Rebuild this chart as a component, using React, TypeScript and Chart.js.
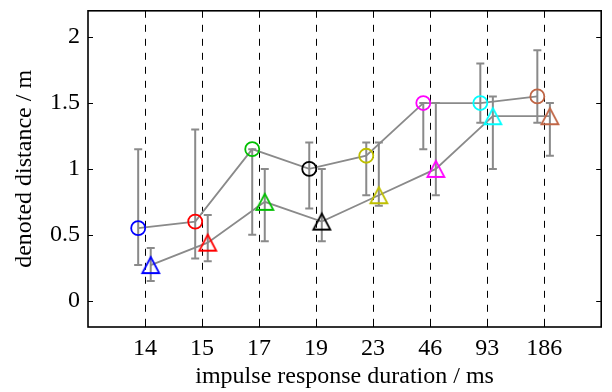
import React, { useEffect, useRef } from "react";
import { Chart, registerables } from "chart.js";

Chart.register(...registerables);

// Impulse response durations (ms), one column per condition
const DURATIONS = ["14", "15", "17", "19", "23", "46", "93", "186"];
const MARKER_COLORS = ["#0000ff", "#ff0000", "#00bf00", "#000000", "#bfbf00", "#ff00ff", "#00ffff", "#c06646"];

// Circle series: denoted distance (m) with lower / upper whiskers
const CIRCLE_MEAN = [0.55, 0.6, 1.15, 1.0, 1.1, 1.5, 1.5, 1.55];
const CIRCLE_LOW = [0.27, 0.32, 0.5, 0.7, 0.8, 1.15, 1.35, 1.35];
const CIRCLE_HIGH = [1.15, 1.3, 1.15, 1.2, 1.2, 1.5, 1.8, 1.9];

// Triangle series: denoted distance (m) with lower / upper whiskers
const TRI_MEAN = [0.27, 0.44, 0.75, 0.6, 0.8, 1.0, 1.4, 1.4];
const TRI_LOW = [0.15, 0.3, 0.45, 0.45, 0.72, 0.8, 1.0, 1.1];
const TRI_HIGH = [0.4, 0.65, 1.0, 1.0, 1.2, 1.5, 1.55, 1.5];

const Y_TICKS = [0, 0.5, 1, 1.5, 2];

const CIRCLE_SHIFT = -0.12;
const TRI_SHIFT = 0.1;
const GRAY = "#8a8a8a";
const FONT = "'Liberation Serif', 'Times New Roman', serif";
const FONT_SIZE = 24;

function triangleImage(color: string): HTMLCanvasElement {
  const c = document.createElement("canvas");
  c.width = 22;
  c.height = 22;
  const g = c.getContext("2d")!;
  g.strokeStyle = color;
  g.lineWidth = 1.8;
  g.lineJoin = "miter";
  g.beginPath();
  g.moveTo(11, 3);
  g.lineTo(19.5, 19);
  g.lineTo(2.5, 19);
  g.closePath();
  g.stroke();
  return c;
}

const whiskers = {
  id: "whiskers",
  beforeDatasetsDraw(chart: any) {
    const { ctx, scales } = chart;
    const xs = scales.x;
    const ys = scales.y;
    const groups = [
      { shift: CIRCLE_SHIFT, low: CIRCLE_LOW, high: CIRCLE_HIGH },
      { shift: TRI_SHIFT, low: TRI_LOW, high: TRI_HIGH },
    ];
    ctx.save();
    ctx.strokeStyle = GRAY;
    ctx.lineWidth = 2;
    for (const gr of groups) {
      gr.low.forEach((lo, i) => {
        const px = xs.getPixelForValue(i + 1 + gr.shift);
        const pLo = ys.getPixelForValue(lo);
        const pHi = ys.getPixelForValue(gr.high[i]);
        ctx.beginPath();
        ctx.moveTo(px, pLo);
        ctx.lineTo(px, pHi);
        ctx.moveTo(px - 4, pLo);
        ctx.lineTo(px + 4, pLo);
        ctx.moveTo(px - 4, pHi);
        ctx.lineTo(px + 4, pHi);
        ctx.stroke();
      });
    }
    ctx.restore();
  },
};

const frame = {
  id: "frame",
  beforeDatasetsDraw(chart: any) {
    const { ctx, chartArea: a, scales } = chart;
    ctx.save();
    ctx.strokeStyle = "#000";
    ctx.lineWidth = 1;
    ctx.setLineDash([7, 7]);
    for (const t of scales.x.ticks) {
      const px = Math.round(scales.x.getPixelForValue(t.value)) + 0.5;
      ctx.beginPath();
      ctx.moveTo(px, a.top);
      ctx.lineTo(px, a.bottom);
      ctx.stroke();
    }
    ctx.restore();
  },
  afterDraw(chart: any) {
    const { ctx, chartArea: a, scales } = chart;
    ctx.save();
    ctx.strokeStyle = "#000";
    ctx.lineWidth = 1;
    for (const t of scales.y.ticks) {
      const py = Math.round(scales.y.getPixelForValue(t.value)) + 0.5;
      ctx.beginPath();
      ctx.moveTo(a.left, py);
      ctx.lineTo(a.left + 5, py);
      ctx.moveTo(a.right, py);
      ctx.lineTo(a.right - 5, py);
      ctx.stroke();
    }
    for (const t of scales.x.ticks) {
      const px = Math.round(scales.x.getPixelForValue(t.value)) + 0.5;
      ctx.beginPath();
      ctx.moveTo(px, a.bottom);
      ctx.lineTo(px, a.bottom - 5);
      ctx.moveTo(px, a.top);
      ctx.lineTo(px, a.top + 5);
      ctx.stroke();
    }
    ctx.lineWidth = 1.6;
    ctx.strokeRect(a.left, a.top, a.right - a.left, a.bottom - a.top);
    ctx.restore();
  },
};

export default function App() {
  const ref = useRef<HTMLCanvasElement | null>(null);

  useEffect(() => {
    if (!ref.current) return;
    const triImgs = MARKER_COLORS.map(triangleImage);

    const chart = new Chart(ref.current, {
      type: "scatter",
      data: {
        datasets: [
          {
            data: CIRCLE_MEAN.map((v, i) => ({ x: i + 1 + CIRCLE_SHIFT, y: v })),
            showLine: true,
            borderColor: GRAY,
            borderWidth: 1.8,
            pointStyle: "circle",
            pointRadius: 7,
            pointBorderWidth: 1.8,
            pointBorderColor: MARKER_COLORS,
            pointBackgroundColor: "rgba(0,0,0,0)",
          },
          {
            data: TRI_MEAN.map((v, i) => ({ x: i + 1 + TRI_SHIFT, y: v })),
            showLine: true,
            borderColor: GRAY,
            borderWidth: 1.8,
            pointStyle: triImgs as any,
            pointRadius: 9,
            pointBorderColor: MARKER_COLORS,
            pointBackgroundColor: "rgba(0,0,0,0)",
          },
        ],
      },
      options: {
        animation: false,
        responsive: true,
        maintainAspectRatio: false,
        events: [],
        layout: { padding: { top: 10, right: 1, left: 0, bottom: 0 } },
        plugins: {
          legend: { display: false },
          tooltip: { enabled: false },
        },
        scales: {
          x: {
            type: "linear",
            min: 0,
            max: 9,
            grid: { display: false, drawTicks: false },
            border: { display: false },
            afterBuildTicks: (scale: any) => {
              scale.ticks = DURATIONS.map((_, i) => ({ value: i + 1 }));
            },
            afterFit: (scale: any) => {
              scale.height = 65;
              scale.paddingLeft = 0;
              scale.paddingRight = 0;
            },
            ticks: {
              padding: 7,
              color: "#000",
              maxRotation: 0,
              autoSkip: false,
              font: { family: FONT, size: FONT_SIZE },
              callback: (v: any) => DURATIONS[Number(v) - 1] ?? "",
            },
            title: {
              display: true,
              text: "impulse response duration / ms",
              color: "#000",
              font: { family: FONT, size: FONT_SIZE },
              padding: { top: 0, bottom: 1 },
            },
          },
          y: {
            type: "linear",
            min: -0.2,
            max: 2.2,
            grid: { display: false, drawTicks: false },
            border: { display: false },
            afterBuildTicks: (scale: any) => {
              scale.ticks = Y_TICKS.map((value) => ({ value }));
            },
            afterFit: (scale: any) => {
              scale.width = 88;
              scale.paddingTop = 0;
              scale.paddingBottom = 0;
            },
            ticks: {
              padding: 8,
              color: "#000",
              font: { family: FONT, size: FONT_SIZE },
              callback: (v: any) => String(v),
            },
            title: {
              display: true,
              text: "denoted distance / m",
              color: "#000",
              font: { family: FONT, size: FONT_SIZE },
              padding: { top: 10, bottom: 0 },
            },
          },
        },
      },
      plugins: [whiskers, frame],
    });

    return () => chart.destroy();
  }, []);

  return (
    <div style={{ position: "fixed", left: 0, top: 0, width: 612, height: 392, background: "#fff" }}>
      <canvas ref={ref} />
    </div>
  );
}
